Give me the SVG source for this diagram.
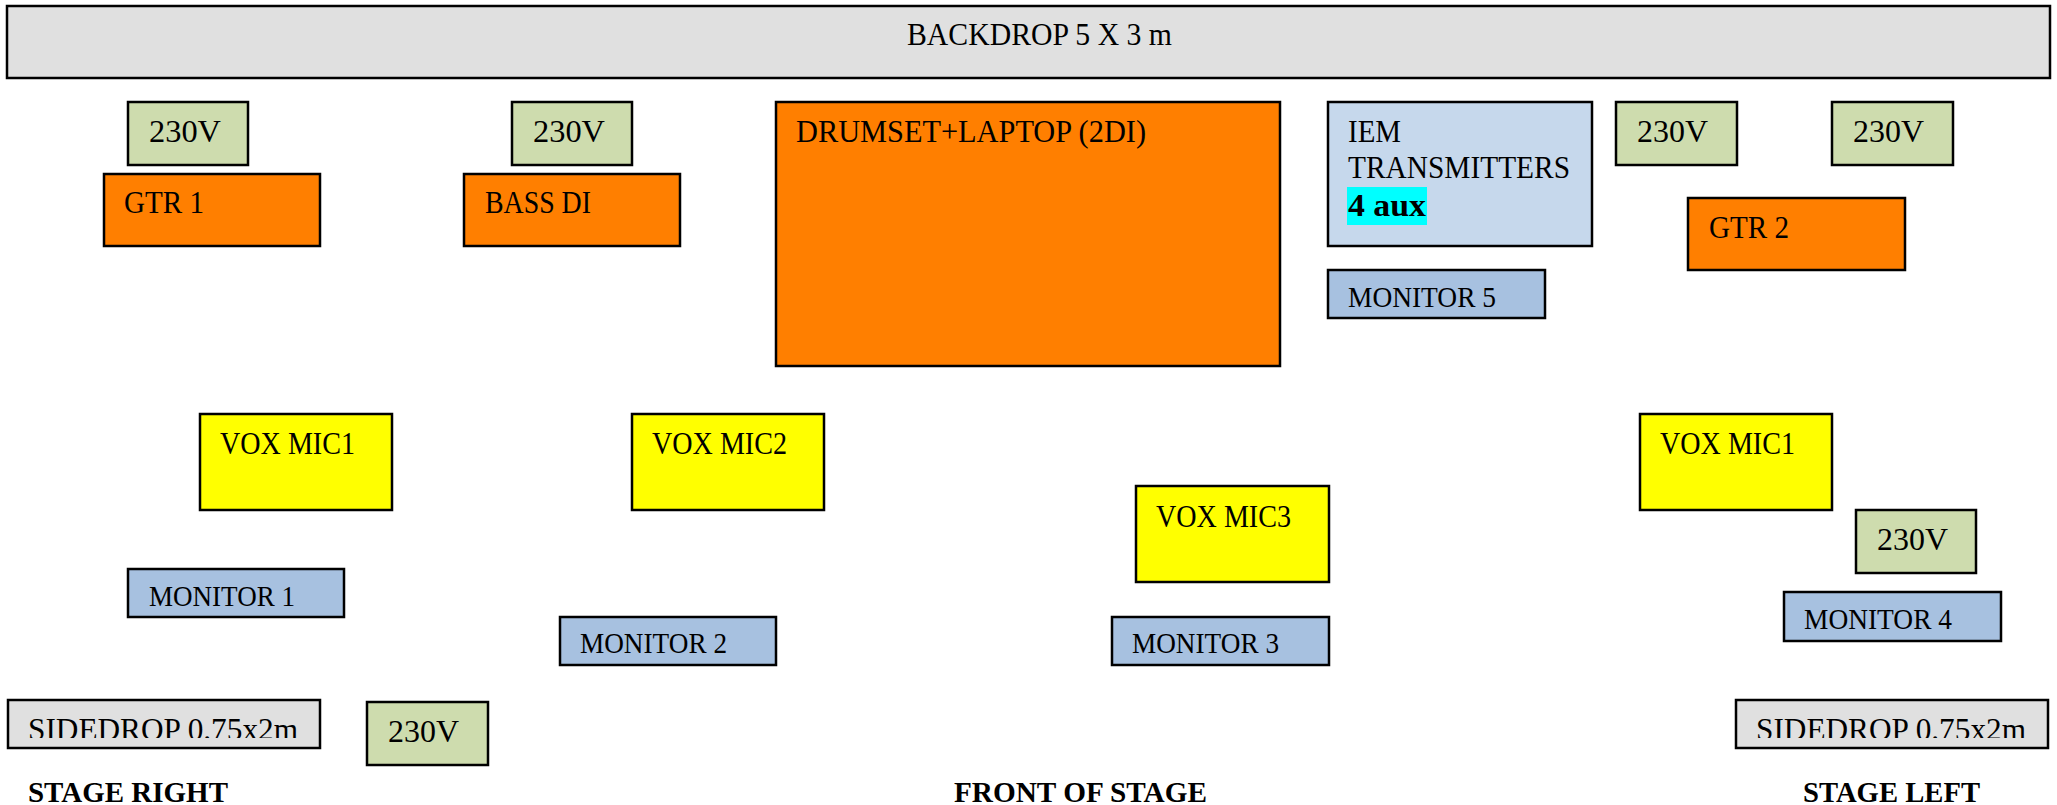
<svg xmlns="http://www.w3.org/2000/svg" width="2057" height="805" viewBox="0 0 2057 805">
<style>
rect{stroke:#000;stroke-width:2.5}
.grey{fill:#e0e0e0}
.pw{fill:#cedcae}
.or{fill:#ff7f00}
.ye{fill:#ffff00}
.iem{fill:#c6d8ec}
.mon{fill:#a7c1e0}
text{font-family:"Liberation Serif","Times New Roman",serif;font-size:32px;fill:#000}
.m{font-size:29px}
.b{font-weight:bold;font-size:29px}
</style>
<defs>
<clipPath id="clipL"><rect x="0" y="690" width="340" height="48" style="stroke:none"/></clipPath>
<clipPath id="clipR"><rect x="1730" y="690" width="327" height="48" style="stroke:none"/></clipPath>
</defs>
<rect width="2057" height="805" style="fill:#fff;stroke:none"/>
<g id="backdrop"><rect class="grey" x="7" y="6" width="2043" height="72"/><text x="907" y="45" textLength="265" lengthAdjust="spacingAndGlyphs">BACKDROP 5 X 3 m</text></g>
<g id="pw1"><rect class="pw" x="128" y="102" width="120" height="63"/><text x="149" y="142" textLength="72" lengthAdjust="spacingAndGlyphs">230V</text></g>
<g id="gtr1"><rect class="or" x="104" y="174" width="216" height="72"/><text x="124" y="213" textLength="80" lengthAdjust="spacingAndGlyphs">GTR 1</text></g>
<g id="pw2"><rect class="pw" x="512" y="102" width="120" height="63"/><text x="533" y="142" textLength="72" lengthAdjust="spacingAndGlyphs">230V</text></g>
<g id="bass"><rect class="or" x="464" y="174" width="216" height="72"/><text x="485" y="213" textLength="106" lengthAdjust="spacingAndGlyphs">BASS DI</text></g>
<g id="drums"><rect class="or" x="776" y="102" width="504" height="264"/><text x="796" y="142" textLength="350" lengthAdjust="spacingAndGlyphs">DRUMSET+LAPTOP (2DI)</text></g>
<g id="iem"><rect class="iem" x="1328" y="102" width="264" height="144"/><text x="1348" y="142" textLength="53" lengthAdjust="spacingAndGlyphs">IEM</text><text x="1348" y="178" textLength="222" lengthAdjust="spacingAndGlyphs">TRANSMITTERS</text><rect x="1347" y="187" width="80" height="38" style="fill:#00ffff;stroke:none"/><text class="b" x="1348" y="216" style="font-size:32px" textLength="78" lengthAdjust="spacingAndGlyphs">4 aux</text></g>
<g id="mon5"><rect class="mon" x="1328" y="270" width="217" height="48"/><text class="m" x="1348" y="307" textLength="148" lengthAdjust="spacingAndGlyphs">MONITOR 5</text></g>
<g id="pw3"><rect class="pw" x="1616" y="102" width="121" height="63"/><text x="1637" y="142" textLength="71" lengthAdjust="spacingAndGlyphs">230V</text></g>
<g id="pw4"><rect class="pw" x="1832" y="102" width="121" height="63"/><text x="1853" y="142" textLength="71" lengthAdjust="spacingAndGlyphs">230V</text></g>
<g id="gtr2"><rect class="or" x="1688" y="198" width="217" height="72"/><text x="1709" y="238" textLength="80" lengthAdjust="spacingAndGlyphs">GTR 2</text></g>
<g id="vox1l"><rect class="ye" x="200" y="414" width="192" height="96"/><text x="220" y="454" textLength="135" lengthAdjust="spacingAndGlyphs">VOX MIC1</text></g>
<g id="vox2"><rect class="ye" x="632" y="414" width="192" height="96"/><text x="652" y="454" textLength="135" lengthAdjust="spacingAndGlyphs">VOX MIC2</text></g>
<g id="vox3"><rect class="ye" x="1136" y="486" width="193" height="96"/><text x="1156" y="527" textLength="135" lengthAdjust="spacingAndGlyphs">VOX MIC3</text></g>
<g id="vox1r"><rect class="ye" x="1640" y="414" width="192" height="96"/><text x="1660" y="454" textLength="135" lengthAdjust="spacingAndGlyphs">VOX MIC1</text></g>
<g id="pw5"><rect class="pw" x="1856" y="510" width="120" height="63"/><text x="1877" y="550" textLength="71" lengthAdjust="spacingAndGlyphs">230V</text></g>
<g id="mon1"><rect class="mon" x="128" y="569" width="216" height="48"/><text class="m" x="149" y="606" textLength="146" lengthAdjust="spacingAndGlyphs">MONITOR 1</text></g>
<g id="mon2"><rect class="mon" x="560" y="617" width="216" height="48"/><text class="m" x="580" y="653" textLength="147" lengthAdjust="spacingAndGlyphs">MONITOR 2</text></g>
<g id="mon3"><rect class="mon" x="1112" y="617" width="217" height="48"/><text class="m" x="1132" y="653" textLength="147" lengthAdjust="spacingAndGlyphs">MONITOR 3</text></g>
<g id="mon4"><rect class="mon" x="1784" y="592" width="217" height="49"/><text class="m" x="1804" y="629" textLength="148" lengthAdjust="spacingAndGlyphs">MONITOR 4</text></g>
<g id="sideL"><rect class="grey" x="8" y="700" width="312" height="48"/><text clip-path="url(#clipL)" x="28" y="740" style="font-size:31px" textLength="270" lengthAdjust="spacingAndGlyphs">SIDEDROP 0.75x2m</text></g>
<g id="pw6"><rect class="pw" x="367" y="702" width="121" height="63"/><text x="388" y="742" textLength="71" lengthAdjust="spacingAndGlyphs">230V</text></g>
<g id="sideR"><rect class="grey" x="1736" y="700" width="312" height="48"/><text clip-path="url(#clipR)" x="1756" y="740" style="font-size:31px" textLength="270" lengthAdjust="spacingAndGlyphs">SIDEDROP 0.75x2m</text></g>
<g id="labels">
<text class="b" x="28" y="802" textLength="200" lengthAdjust="spacingAndGlyphs">STAGE RIGHT</text>
<text class="b" x="954" y="802" textLength="253" lengthAdjust="spacingAndGlyphs">FRONT OF STAGE</text>
<text class="b" x="1803" y="802" textLength="177" lengthAdjust="spacingAndGlyphs">STAGE LEFT</text>
</g>
<g id="connectors"></g>
</svg>
